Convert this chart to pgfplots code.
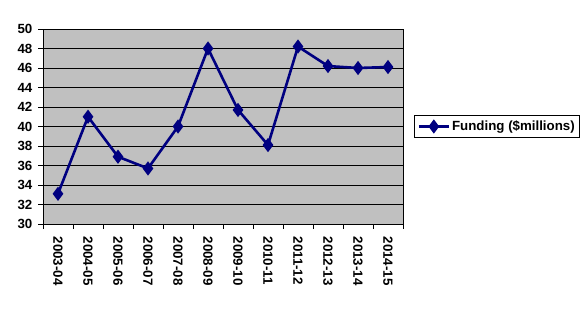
\documentclass[border=0pt]{standalone}
\usepackage{pgfplots}
\pgfplotsset{compat=1.18}
\usepackage{fontspec}
\setmainfont{Liberation Sans}
\definecolor{navy}{HTML}{000080}
\definecolor{plotgray}{HTML}{C0C0C0}
\definecolor{bordergray}{HTML}{808080}
\begin{document}
\fontsize{13.3bp}{15bp}\selectfont\bfseries
\begin{tikzpicture}[x=1bp,y=1bp]
\useasboundingbox (0,0) rectangle (587,317);
\begin{axis}[
  at={(43bp,93bp)}, anchor=south west,
  scale only axis, width=360bp, height=195bp,
  xmin=-0.5, xmax=11.5, ymin=30, ymax=50,
  ytick={30,32,...,50},
  xtick={-0.5,0.5,...,11.5}, xticklabels={},
  extra x ticks={0,1,...,11},
  extra x tick labels={2003-04,2004-05,2005-06,2006-07,2007-08,2008-09,2009-10,2010-11,2011-12,2012-13,2013-14,2014-15},
  extra x tick style={major tick length=0pt, grid=none,
    tick label style={rotate=-90, anchor=west, xshift=8bp}},
  axis background/.style={fill=plotgray},
  ymajorgrids, major grid style={black, line width=0.9bp},
  tick style={black, line width=0.9bp},
  major tick length=5bp,
  tick align=outside,
  tick pos=left,
  axis line style={bordergray, line width=0.9bp},
  separate axis lines,
  x axis line style={black},
  y axis line style={black},
  /pgf/number format/assume math mode=true,
  tick label style={font=\fontsize{13.3bp}{15bp}\selectfont\bfseries},
  yticklabel style={xshift=-1bp},
  legend style={at={(1.031,0.5)}, anchor=west, draw=black, line width=0.9bp,
    font=\fontsize{13.3bp}{15bp}\selectfont\bfseries, inner xsep=3bp, inner ysep=3bp,
    cells={anchor=west}},
  legend image code/.code={\draw[#1, line width=2.5bp] (0bp,0bp) -- (30bp,0bp);
    \draw[#1, only marks] plot coordinates {(15bp,0bp)};},
  clip=false,
]
\addplot[navy, line width=2.6bp, mark=diamond*, mark size=5bp,
  mark options={solid, fill=navy}]
  coordinates {(0,33.1) (1,41.0) (2,36.9) (3,35.7) (4,40.0) (5,48.0)
               (6,41.7) (7,38.1) (8,48.2) (9,46.2) (10,46.0) (11,46.1)};
\addlegendentry{Funding (\$millions)}
\end{axis}
\end{tikzpicture}
\end{document}
